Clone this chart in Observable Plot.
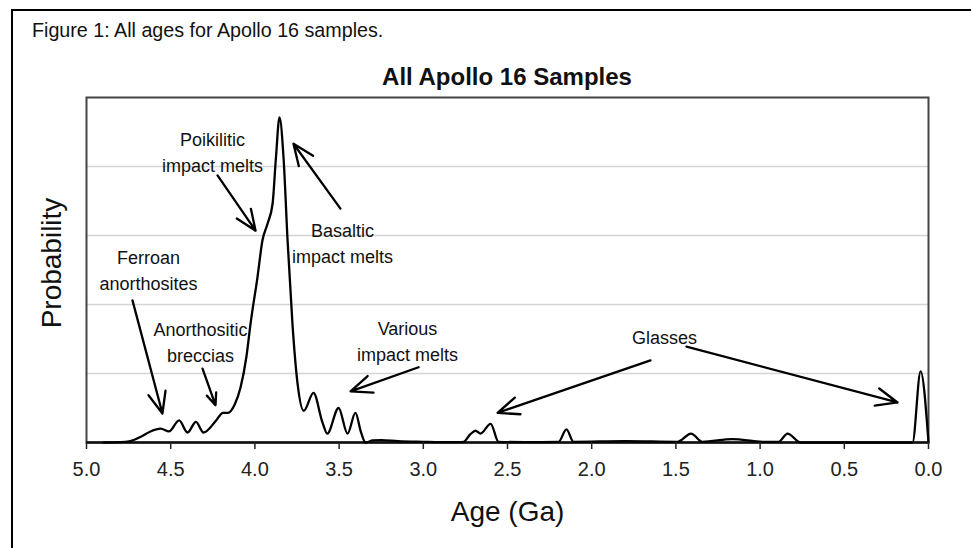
<!DOCTYPE html>
<html>
<head>
<meta charset="utf-8">
<script src="https://cdn.jsdelivr.net/npm/d3@7"></script>
<script src="https://cdn.jsdelivr.net/npm/@observablehq/plot@0.6"></script>
<style>
  html, body { margin: 0; padding: 0; background: #fff; overflow: hidden; }
  body { width: 971px; height: 548px; position: relative; font-family: "Liberation Sans", Arial, sans-serif; }
  #border { position: absolute; left: 11px; top: 9px; width: 2000px; height: 2000px;
            border-left: 2.5px solid #000; border-top: 2.5px solid #000; }
  #caption { position: absolute; left: 32px; top: 19px; font-size: 19.7px; color: #111; white-space: nowrap; }
  #title { position: absolute; left: 86px; width: 842px; top: 63px; text-align: center;
           font-size: 24px; font-weight: bold; color: #111; white-space: nowrap; }
  #chart { position: absolute; left: 0; top: 0; }
</style>
</head>
<body>
<div id="border"></div>
<div id="caption">Figure 1: All ages for Apollo 16 samples.</div>
<div id="title">All Apollo 16 Samples</div>
<div id="chart"></div>
<script>
// ---- data ----
const ages = [4.90, 4.80, 4.74, 4.68, 4.62, 4.56, 4.51, 4.45, 4.40, 4.35, 4.305, 4.23, 4.19, 4.16, 4.12,
  4.085, 4.05, 4.026, 3.985, 3.955, 3.925, 3.895, 3.875, 3.854, 3.83, 3.806, 3.777, 3.747, 3.71,
  3.652, 3.60, 3.57, 3.503, 3.45, 3.403, 3.37, 3.343, 3.30, 3.25, 3.15, 3.0, 2.90, 2.79, 2.761,
  2.72, 2.69, 2.66, 2.60, 2.553, 2.40, 2.197, 2.15, 2.108, 1.80, 1.49, 1.41, 1.342, 1.164, 0.985,
  0.89, 0.837, 0.76, 0.40, 0.095, 0.047, 0.0];
const probability = [0, 0.005, 0.02, 0.08, 0.16, 0.20, 0.16, 0.32, 0.145, 0.30, 0.145, 0.32, 0.43, 0.43, 0.55,
  0.80, 1.25, 1.72, 2.39, 2.93, 3.17, 3.46, 4.13, 4.71, 4.13, 2.93, 1.72, 0.86, 0.46,
  0.72, 0.30, 0.13, 0.50, 0.13, 0.43, 0.15, 0.0, 0.03, 0.035, 0.02, 0.01, 0.005, 0.005, 0.01,
  0.12, 0.17, 0.13, 0.27, 0.01, 0.005, 0.01, 0.19, 0.01, 0.02, 0.01, 0.13, 0.01, 0.05, 0.01,
  0.01, 0.13, 0.0, 0.0, 0.0, 1.03, 0.0];
const xTicks = [5.0, 4.5, 4.0, 3.5, 3.0, 2.5, 2.0, 1.5, 1.0, 0.5, 0.0];
const gridValues = [1, 2, 3, 4];

const labelTexts = ["Poikilitic\nimpact melts", "Basaltic\nimpact melts", "Ferroan\nanorthosites",
  "Anorthositic\nbreccias", "Various\nimpact melts", "Glasses"];
const labelAge = [4.252, 3.480, 4.632, 4.323, 3.094, 1.568];
const labelProb = [4.23, 2.906, 2.514, 1.478, 1.49, 1.55];

const arrowFromAge = [4.222, 3.492, 4.727, 4.311, 3.028, 1.651, 1.437];
const arrowFromProb = [3.87, 3.39, 2.06, 1.07, 1.09, 1.19, 1.39];
const arrowToAge = [3.996, 3.771, 4.549, 4.234, 3.432, 2.559, 0.184];
const arrowToProb = [3.07, 4.33, 0.42, 0.54, 0.74, 0.43, 0.58];

// ---- build tables ----
const curve = ages.map((a, i) => ({age: a, p: probability[i]}));
const labels = labelTexts.map((t, i) => ({t, age: labelAge[i], p: labelProb[i]}));
const arrows = arrowFromAge.map((a, i) => ({x1: a, y1: arrowFromProb[i], x2: arrowToAge[i], y2: arrowToProb[i]}));

const chart = Plot.plot({
  width: 971,
  height: 548,
  marginLeft: 86,
  marginRight: 43,
  marginTop: 97,
  marginBottom: 106,
  style: {fontFamily: "'Liberation Sans', Arial, sans-serif", color: "#111", background: "transparent"},
  x: {domain: [5, 0], label: null},
  y: {domain: [0, 5], axis: null},
  marks: [
    Plot.ruleY(gridValues, {stroke: "#d4d4d4", strokeWidth: 1.5}),
    Plot.frame({stroke: "#444", strokeWidth: 2}),
    Plot.ruleY([0], {stroke: "#111", strokeWidth: 2.5}),
    Plot.line(curve, {x: "age", y: "p", curve: "monotone-x", stroke: "#000", strokeWidth: 2.3}),
    Plot.axisX({ticks: xTicks, tickFormat: d => d.toFixed(1), tickSize: 7, tickPadding: 12,
                fontSize: 20, stroke: "#222", strokeWidth: 1.5, label: null, color: "#222"}),
    Plot.text(["Age (Ga)"], {frameAnchor: "bottom", dy: 78, fontSize: 28, fill: "#111"}),
    Plot.text(["Probability"], {frameAnchor: "left", textAnchor: "middle", rotate: -90, dx: -34, dy: -7,
                                fontSize: 28, fill: "#111"}),
    Plot.text(labels, {x: "age", y: "p", text: "t", fontSize: 18, lineHeight: 1.45, fill: "#111"}),
    Plot.arrow(arrows, {x1: "x1", y1: "y1", x2: "x2", y2: "y2", stroke: "#000", strokeWidth: 2.3,
                        headLength: 15, headAngle: 45, bend: false})
  ]
});
document.getElementById("chart").appendChild(chart);
</script>
</body>
</html>
